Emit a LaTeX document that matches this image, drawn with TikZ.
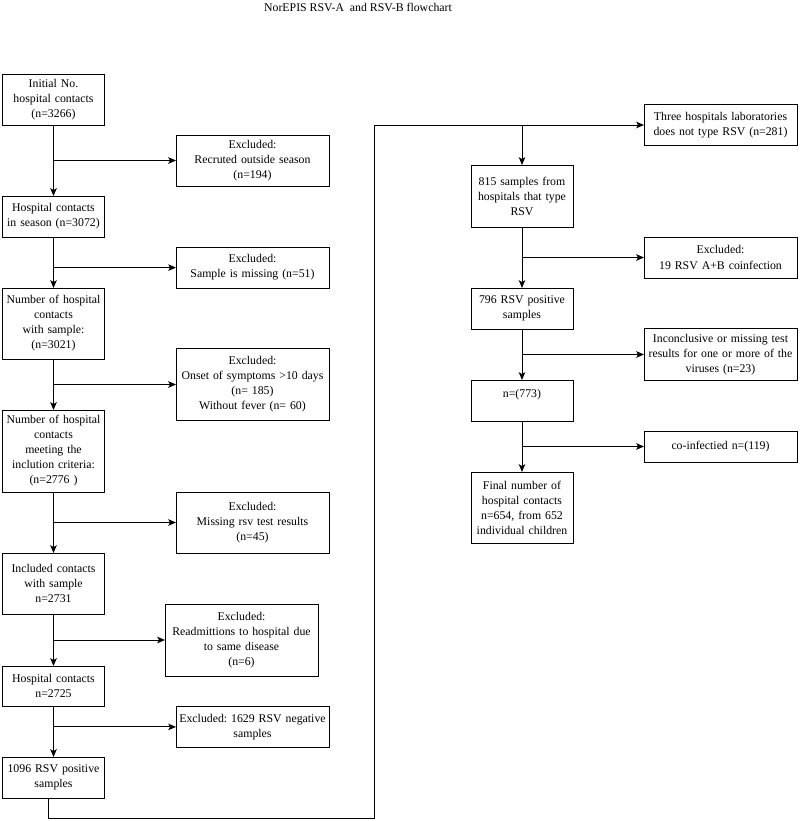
\documentclass[tikz,border=0pt]{standalone}
\usepackage{fontspec}
\setmainfont{Liberation Serif}
\usetikzlibrary{arrows.meta, positioning, calc}

\begin{document}
\begin{tikzpicture}[
    node distance=1.275cm and 3.0625cm,
    stage/.style={
        rectangle,
        draw=black,
        line width=0.7pt,
        text width=2.48cm,
        inner xsep=1pt,
        inner ysep=1pt,
        outer sep=0pt,
        align=center,
        font=\fontsize{8.4}{10.7}\selectfont\frenchspacing,
    },
    excl/.style={
        rectangle,
        draw=black,
        line width=0.7pt,
        text width=3.755cm,
        inner xsep=1pt,
        inner ysep=1pt,
        outer sep=0pt,
        align=center,
        font=\fontsize{8.4}{10.7}\selectfont\frenchspacing,
    },
    heading/.style={font=\fontsize{8.4}{10.7}\selectfont},
    arr/.style={-{Stealth[length=5.5pt, width=4.6pt, inset=1.2pt]}, line width=0.7pt, color=black},
    lin/.style={line width=0.7pt, color=black},
]

\useasboundingbox (0,0) rectangle (20,-20.525);

\node[heading] (ttl) at (8.95,-0.175) {NorEPIS RSV-A\ \ and RSV-B flowchart};

\node[stage, minimum height=1.275cm] (b1) at (1.3375,-2.4875)
    {Initial No.\\hospital contacts\\(n=3266)};
\node[stage, minimum height=1.025cm, below=1.775cm of b1] (b2)
    {Hospital contacts\\in season (n=3072)};
\node[stage, minimum height=1.775cm, below=of b2] (b3)
    {Number of hospital\\contacts\\with sample:\\(n=3021)};
\node[stage, minimum height=2.05cm, below=of b3] (b4)
    {Number of hospital\\contacts\\meeting the\\inclution criteria:\\(n=2776 )};
\node[stage, minimum height=1.525cm, below=1.525cm of b4] (b5)
    {Included contacts\\with sample\\n=2731};
\node[stage, minimum height=1cm, below=1.3cm of b5] (b6)
    {Hospital contacts\\n=2725};
\node[stage, minimum height=1.025cm, below=of b6] (b7)
    {1096 RSV positive\\samples};

\coordinate (j1) at ($(b1.south)!0.5!(b2.north)$);
\coordinate (j2) at ($(b2.south)!0.6!(b3.north)$);
\coordinate (j3) at ($(b3.south)!0.5!(b4.north)$);
\coordinate (j4) at ($(b4.south)!0.5!(b5.north)$);
\coordinate (j5) at ($(b5.south)!0.5!(b6.north)$);
\coordinate (j6) at ($(b6.south)!0.41!(b7.north)$);

\node[excl, minimum height=1.275cm, right=of j1] (e1)
    {Excluded:\\Recruted outside season\\(n=194)};
\node[excl, minimum height=1.025cm, right=of j2] (e2)
    {Excluded:\\Sample is missing (n=51)};
\node[excl, minimum height=1.8cm, right=of j3] (e3)
    {Excluded:\\Onset of symptoms >10 days\\(n= 185)\\Without fever (n= 60)};
\node[excl, minimum height=1.525cm, right=of j4] (e4)
    {Excluded:\\Missing rsv test results\\(n=45)};
\node[excl, minimum height=1.8cm, right=2.7875cm of j5] (e5)
    {Excluded:\\Readmittions to hospital due\\to same disease\\(n=6)};
\node[excl, minimum height=1.025cm, right=of j6] (e6)
    {Excluded: 1629 RSV negative\\samples};

\coordinate (lt) at (9.35,-3.125);
\coordinate (j0) at (13.05,-3.125);

\node[excl, minimum height=1.025cm, right=6.75cm of lt] (e7)
    {Three hospitals laboratories\\does not type RSV (n=281)};
\node[stage, minimum height=1.55cm, below=1cm of j0] (b8)
    {815 samples from\\hospitals that type\\RSV};
\node[stage, minimum height=1.025cm, below=1.525cm of b8] (b9)
    {796 RSV positive\\samples};
\node[stage, minimum height=1.025cm, text depth=10pt, below=of b9] (b10)
    {n=(773)};
\node[stage, minimum height=1.775cm, below=of b10] (b11)
    {Final number of\\hospital contacts\\n=654, from 652\\individual children};

\coordinate (k1) at ($(b8.south)!0.5!(b9.north)$);
\coordinate (k2) at ($(b9.south)!0.5!(b10.north)$);
\coordinate (k3) at ($(b10.south)!0.5!(b11.north)$);

\node[excl, minimum height=1.025cm, right=3.05cm of k1] (e8)
    {Excluded:\\19 RSV A+B coinfection};
\node[excl, minimum height=1.3cm, right=3.05cm of k2] (e9)
    {Inconclusive or missing test\\results for one or more of the\\viruses (n=23)};
\node[excl, minimum height=0.775cm, right=3.05cm of k3] (e10)
    {co-infectied n=(119)};

\draw[arr] (b1) -- (b2);
\draw[arr] (b2) -- (b3);
\draw[arr] (b3) -- (b4);
\draw[arr] (b4) -- (b5);
\draw[arr] (b5) -- (b6);
\draw[arr] (b6) -- (b7);

\draw[arr] (j1) -- (e1);
\draw[arr] (j2) -- (e2);
\draw[arr] (j3) -- (e3);
\draw[arr] (j4) -- (e4);
\draw[arr] (j5) -- (e5);
\draw[arr] (j6) -- (e6);

\draw[arr] ([xshift=-0.12cm]b7.south) -- ++(0,-0.5) -| (lt) -- (e7);
\draw[arr] (j0) -- (b8);

\draw[arr] (b8) -- (b9);
\draw[arr] (b9) -- (b10);
\draw[arr] (b10) -- (b11);

\draw[arr] (k1) -- (e8);
\draw[arr] (k2) -- (e9);
\draw[arr] (k3) -- (e10);

\end{tikzpicture}
\end{document}
